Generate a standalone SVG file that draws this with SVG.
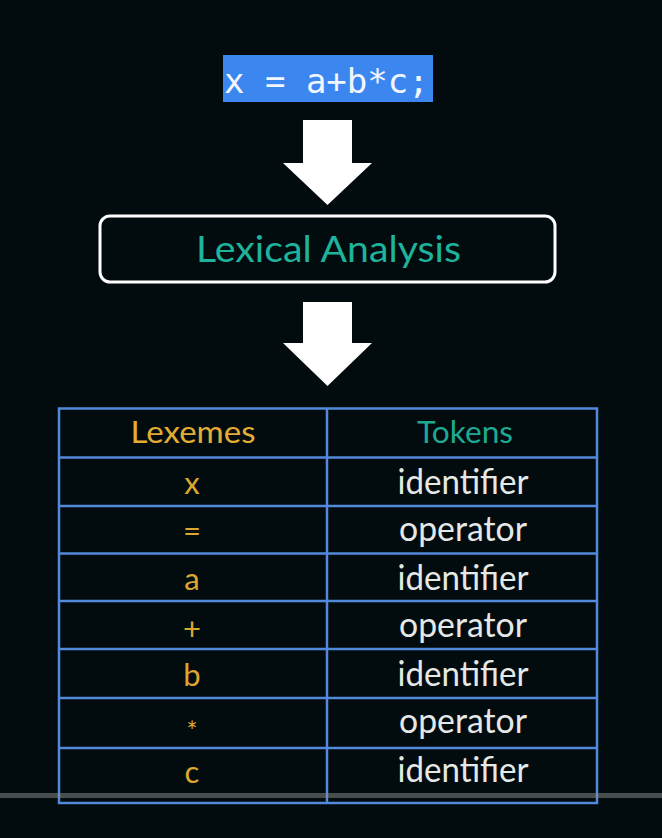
<svg xmlns="http://www.w3.org/2000/svg" width="662" height="838" viewBox="0 0 662 838">
<style>
.bg{fill:#020c0e}
.arrow{fill:#ffffff}
.code{font-family:"DejaVu Sans Mono","Liberation Mono",monospace;font-size:34px;fill:#f2f6ff}
.title{font-family:Lato,"Open Sans",sans-serif;font-size:36px;fill:#1eb39c}
.grid{fill:none;stroke:#5389da;stroke-width:2.5}
.hdrL{font-family:Lato,"Open Sans",sans-serif;font-size:31px;fill:#e2ad35;text-anchor:middle}
.hdrR{font-family:Lato,"Open Sans",sans-serif;font-size:31px;fill:#1eaa92;text-anchor:middle}
.lex{font-family:Lato,"Open Sans",sans-serif;font-size:31px;fill:#dca72e;text-anchor:middle}
.tok{font-family:Lato,"Open Sans",sans-serif;font-size:34px;fill:#e6e8e8;text-anchor:middle}
</style>
<rect class="bg" x="0" y="0" width="662" height="838"/>

<g id="source">
<rect x="223" y="55" width="210" height="47" fill="#3c86f0"/>
<text class="code" x="224" y="93">x = a+b*c;</text>
</g>

<g id="connectors">
<polygon class="arrow" points="303,120 352,120 352,163 372,163 327.5,205 283,163 303,163"/>
<polygon class="arrow" points="303,302 352,302 352,343 372,343 327.5,386 283,343 303,343"/>
</g>

<g id="lexical-analysis">
<rect x="100" y="216" width="455" height="66" rx="10" fill="#020c0e" stroke="#ffffff" stroke-width="3"/>
<text class="title" x="328.5" y="262" text-anchor="middle" textLength="265" lengthAdjust="spacingAndGlyphs">Lexical Analysis</text>
</g>

<g id="table">
<rect class="grid" x="59" y="408.5" width="538" height="394.5"/>
<line class="grid" x1="327" y1="408.5" x2="327" y2="803"/>
<line class="grid" x1="59" y1="457.5" x2="597" y2="457.5"/>
<line class="grid" x1="59" y1="506" x2="597" y2="506"/>
<line class="grid" x1="59" y1="553.5" x2="597" y2="553.5"/>
<line class="grid" x1="59" y1="601" x2="597" y2="601"/>
<line class="grid" x1="59" y1="649" x2="597" y2="649"/>
<line class="grid" x1="59" y1="698" x2="597" y2="698"/>
<line class="grid" x1="59" y1="748" x2="597" y2="748"/>

<text class="hdrL" x="193" y="443" textLength="125" lengthAdjust="spacingAndGlyphs">Lexemes</text>
<text class="hdrR" x="465" y="443" textLength="96" lengthAdjust="spacingAndGlyphs">Tokens</text>

<text class="lex" x="192" y="494">x</text>
<text class="lex" x="192" y="542">=</text>
<text class="lex" x="192" y="590">a</text>
<text class="lex" x="192" y="640">+</text>
<text class="lex" x="192" y="686">b</text>
<text class="lex" x="192" y="741" style="font-size:26px">*</text>
<text class="lex" x="192" y="783">c</text>

<text class="tok" x="463" y="494" textLength="131" lengthAdjust="spacingAndGlyphs">identifier</text>
<text class="tok" x="463" y="541" textLength="128" lengthAdjust="spacingAndGlyphs">operator</text>
<text class="tok" x="463" y="590" textLength="131" lengthAdjust="spacingAndGlyphs">identifier</text>
<text class="tok" x="463" y="637" textLength="128" lengthAdjust="spacingAndGlyphs">operator</text>
<text class="tok" x="463" y="686" textLength="131" lengthAdjust="spacingAndGlyphs">identifier</text>
<text class="tok" x="463" y="733" textLength="128" lengthAdjust="spacingAndGlyphs">operator</text>
<text class="tok" x="463" y="782" textLength="131" lengthAdjust="spacingAndGlyphs">identifier</text>
</g>

<rect x="0" y="793" width="662" height="5" fill="#8a9090" fill-opacity="0.5"/>
</svg>
